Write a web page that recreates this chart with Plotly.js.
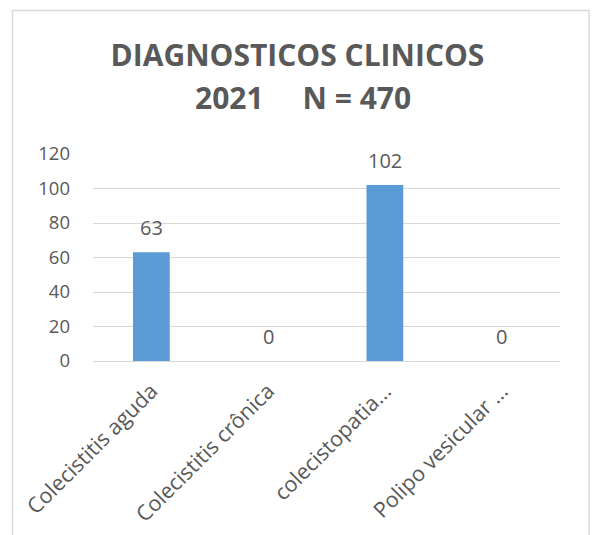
<!DOCTYPE html>
<html>
<head>
<meta charset="utf-8">
<script src="https://cdn.plot.ly/plotly-3.0.1.min.js"></script>
<style>
  html, body { margin: 0; padding: 0; background: #ffffff; }
  #chart { width: 595px; height: 535px; }
</style>
</head>
<body>
<div id="chart"></div>
<script>
// Diagnósticos clínicos, 2021 (N = 470)
const categories = [
  "Colecistitis aguda",
  "Colecistitis crônica",
  "colecistopatia...",
  "Polipo vesicular ..."
];
const counts = [63, 0, 102, 0];
const yTicks = [0, 20, 40, 60, 80, 100, 120];
const titleLine1 = "DIAGNOSTICOS CLINICOS";
const titleLine2 = "2021\u00a0\u00a0\u00a0\u00a0\u00a0N = 470";

const FONT = "'Open Sans', sans-serif";
const TEXT = "#595959";
const GRID = "#d9d9d9";
const W = 595, H = 535;
const M = { l: 93, r: 35, t: 154, b: 174 };

// pixel (from top-left of the page) -> paper coordinates of the plot area
const pw = W - M.l - M.r, ph = H - M.t - M.b;
const px = v => (v - M.l) / pw;
const py = v => (H - M.b - v) / ph;

const trace = {
  type: "bar",
  x: categories,
  y: counts,
  marker: { color: "#5b9bd5" },
  hoverinfo: "x+y"
};

const valueLabels = categories.map((c, i) => ({
  x: c, y: counts[i], xref: "x", yref: "y",
  text: String(counts[i]), showarrow: false,
  yanchor: "bottom", yshift: 9,
  font: { family: FONT, size: 20, color: TEXT }
}));

const layout = {
  width: W, height: H,
  margin: M,
  paper_bgcolor: "#ffffff",
  plot_bgcolor: "#ffffff",
  showlegend: false,
  bargap: 0.685,
  title: {
    text: titleLine1,
    font: { family: FONT, size: 30, color: TEXT, weight: "bold" },
    x: 0.5, xref: "container", xanchor: "center",
    y: 1 - 45 / H, yref: "container", yanchor: "top"
  },
  annotations: valueLabels.concat([{
    text: titleLine2, showarrow: false,
    xref: "paper", yref: "paper",
    x: px(W / 2 + 5), xanchor: "center",
    y: py(75), yanchor: "top",
    font: { family: FONT, size: 30, color: TEXT, weight: "bold" }
  }]),
  xaxis: {
    type: "category",
    tickangle: -45,
    tickfont: { family: FONT, size: 21.5, color: TEXT },
    showgrid: false,
    showline: true, linecolor: GRID, linewidth: 1,
    ticks: "", ticklabelstandoff: 8
  },
  yaxis: {
    range: [0, 120],
    tickmode: "array", tickvals: yTicks, ticktext: yTicks.map(String),
    tickfont: { family: FONT, size: 18.5, color: TEXT },
    showgrid: true, gridcolor: GRID, gridwidth: 1,
    zeroline: false, showline: false, ticks: "",
    ticklabelstandoff: 22
  },
  shapes: [{
    type: "rect", xref: "paper", yref: "paper",
    x0: px(12.5), x1: px(589), y0: py(H + 10), y1: py(10.5),
    line: { color: GRID, width: 1.5 }, fillcolor: "rgba(0,0,0,0)",
    layer: "below"
  }]
};

Plotly.newPlot("chart", [trace], layout, { staticPlot: true, displayModeBar: false });
</script>
</body>
</html>
